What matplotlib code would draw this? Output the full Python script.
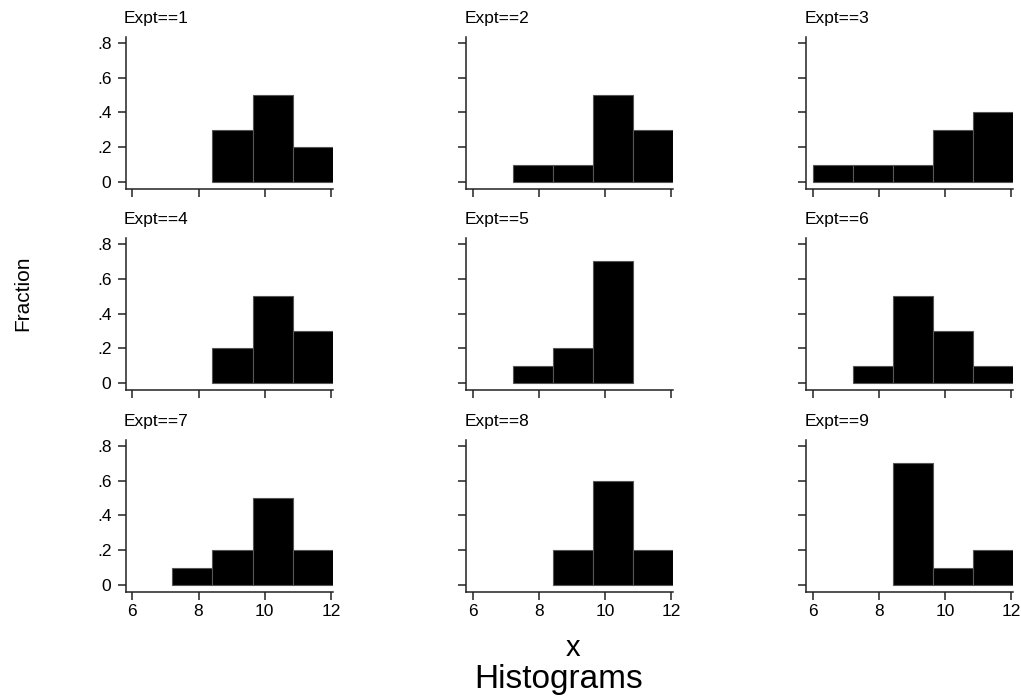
import numpy as np
import matplotlib as mpl

mpl.use('Agg')
import matplotlib.pyplot as plt

# bin edges shared by every panel (5 bins from 6 to ~12)
bin_edges = [6.0, 7.21, 8.42, 9.63, 10.84, 12.05]

# fraction in each bin, one list per experiment
expt_1 = [0.0, 0.0, 0.3, 0.5, 0.2]
expt_2 = [0.0, 0.1, 0.1, 0.5, 0.3]
expt_3 = [0.1, 0.1, 0.1, 0.3, 0.4]
expt_4 = [0.0, 0.0, 0.2, 0.5, 0.3]
expt_5 = [0.0, 0.1, 0.2, 0.7, 0.0]
expt_6 = [0.0, 0.1, 0.5, 0.3, 0.1]
expt_7 = [0.0, 0.1, 0.2, 0.5, 0.2]
expt_8 = [0.0, 0.0, 0.2, 0.6, 0.2]
expt_9 = [0.0, 0.0, 0.7, 0.1, 0.2]
panels = [expt_1, expt_2, expt_3, expt_4, expt_5, expt_6, expt_7, expt_8, expt_9]
titles = [f"Expt=={i}" for i in range(1, 10)]

x_ticks = [6, 8, 10, 12]
y_ticks = [0, 0.2, 0.4, 0.6, 0.8]

plt.rcParams['font.family'] = ['Liberation Sans', 'DejaVu Sans']

W, H = 1021, 698
fig = plt.figure(figsize=(W / 100, H / 100), dpi=100)

col_left = [126, 466.4, 806.4]
row_bottom = [188.7, 390, 591.7]
ax_w, ax_h = 207, 152

edges = np.array(bin_edges)
widths = np.diff(edges)


def fmt(v):
    return '0' if v == 0 else f'{v:.1f}'.lstrip('0')


for i, frac in enumerate(panels):
    r, c = divmod(i, 3)
    ax = fig.add_axes([col_left[c] / W, 1 - row_bottom[r] / H, ax_w / W, ax_h / H])
    frac = np.array(frac)
    keep = frac > 0  # empty bins draw nothing
    ax.bar(edges[:-1][keep], frac[keep], width=widths[keep], align='edge',
           color='black', edgecolor='#555555', linewidth=0.8)
    ax.set_xlim(5.81, 12.06)
    ax.set_ylim(-0.0385, 0.835)
    for s in ['top', 'right']:
        ax.spines[s].set_visible(False)
    for s in ['left', 'bottom']:
        ax.spines[s].set_linewidth(1.1)
        ax.spines[s].set_color('#222222')
    ax.set_xticks(x_ticks)
    ax.set_yticks(y_ticks)
    ax.tick_params(direction='out', length=5.5, width=1.1, color='#222222',
                   labelsize=12.5)
    ax.tick_params(axis='y', pad=5)
    ax.tick_params(axis='x', pad=3)
    if c == 0:
        ax.set_yticklabels([fmt(v) for v in y_ticks])
    else:
        ax.set_yticklabels([])
    if r == 2:
        ax.set_xticklabels([str(v) for v in x_ticks])
    else:
        ax.set_xticklabels([])
    ax.text(-0.01, 1.09, titles[i], transform=ax.transAxes,
            ha='left', va='baseline', fontsize=12.5)

fig.text(23 / W, 1 - 293 / H, 'Fraction', rotation=90, ha='center', va='center', fontsize=15)
fig.text(573 / W, 1 - 656 / H, 'x', ha='center', va='baseline', fontsize=21)
fig.text(559 / W, 1 - 688 / H, 'Histograms', ha='center', va='baseline', fontsize=24)

fig.savefig('out.png', dpi=100)
